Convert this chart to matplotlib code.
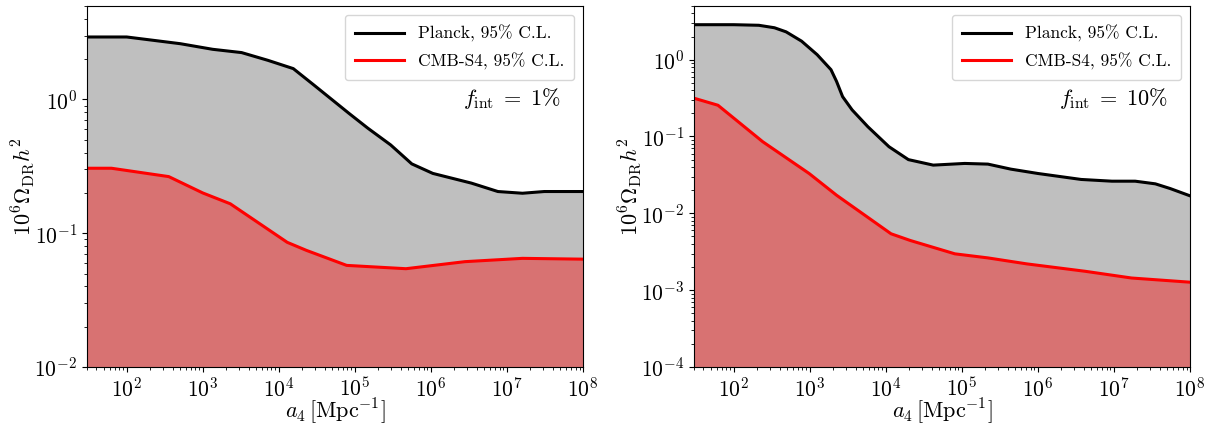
import matplotlib
matplotlib.use('Agg')
import matplotlib.pyplot as plt
import numpy as np

plt.rcParams['font.family'] = 'serif'
plt.rcParams['font.serif'] = ['cmr10']
plt.rcParams['mathtext.fontset'] = 'cm'
plt.rcParams['axes.formatter.use_mathtext'] = True
plt.rcParams['axes.unicode_minus'] = False

# f_int = 1%
a4_p1 = [30, 100, 507, 1350, 3240, 7200, 15500, 29000, 83000, 148000, 296000,
         560000, 1.06e6, 3.4e6, 7.6e6, 1.6e7, 3.1e7, 1e8]
planck_1 = [2.93, 2.93, 2.61, 2.37, 2.24, 1.96, 1.70, 1.28, 0.79, 0.61, 0.457,
            0.33, 0.28, 0.237, 0.205, 0.199, 0.205, 0.205]
a4_s1 = [30, 63, 357, 1000, 2300, 12900, 23000, 78000, 470000, 2.8e6, 1.6e7, 1e8]
cmbs4_1 = [0.306, 0.306, 0.265, 0.20, 0.166, 0.0855, 0.0745, 0.0575, 0.0543,
           0.0613, 0.0649, 0.0640]

# f_int = 10%
a4_p10 = [30, 100, 214, 343, 488, 780, 1250, 1900, 2250, 2700, 3600, 5800,
          11000, 19800, 42000, 109000, 220000, 440000, 1e6, 3.7e6, 9.4e6,
          1.9e7, 3.5e7, 5.5e7, 1e8]
planck_10 = [2.85, 2.85, 2.8, 2.6, 2.3, 1.74, 1.16, 0.74, 0.52, 0.33, 0.222,
             0.134, 0.0736, 0.050, 0.0424, 0.0446, 0.0437, 0.0376, 0.033,
             0.0276, 0.0262, 0.0262, 0.0242, 0.021, 0.0169]
a4_s10 = [30, 62, 240, 980, 2250, 11700, 21000, 81000, 220000, 7.1e5, 4.2e6,
          1.7e7, 1e8]
cmbs4_10 = [0.315, 0.255, 0.0856, 0.033, 0.0172, 0.00542, 0.00443, 0.00297,
            0.00263, 0.0022, 0.00176, 0.00144, 0.00127]

panels = [
    (a4_p1, planck_1, a4_s1, cmbs4_1, 1e-2, r'$f_{\rm int}\;=\;1\%$'),
    (a4_p10, planck_10, a4_s10, cmbs4_10, 1e-4, r'$f_{\rm int}\;=\;10\%$'),
]

fig = plt.figure(figsize=(12.08, 4.24), dpi=100)
lefts = [0.072, 0.5745]

for left, (xp, yp, xs, ys, ymin, txt) in zip(lefts, panels):
    ax = fig.add_axes([left, 0.1344, 0.4106, 0.8516])
    ax.fill_between(xp, ymin * 1e-3, yp, color='k', alpha=0.25, lw=0)
    ax.fill_between(xs, ymin * 1e-3, ys, color='red', alpha=0.4, lw=0)
    ax.plot(xp, yp, color='k', lw=2.2, label='Planck, 95% C.L.')
    ax.plot(xs, ys, color='red', lw=2.2, label='CMB-S4, 95% C.L.')
    ax.set_xscale('log')
    ax.set_yscale('log')
    ax.set_xlim(30, 1e8)
    ax.set_ylim(ymin, 5)
    ax.set_xticks([1e2, 1e3, 1e4, 1e5, 1e6, 1e7, 1e8])
    ax.tick_params(labelsize=15.5)
    ax.set_xlabel(r'$a_4\,[{\rm Mpc}^{-1}]$', fontsize=16, labelpad=-3)
    ax.set_ylabel(r'$10^6\Omega_{\rm DR}h^2$', fontsize=16, labelpad=-2)
    ax.legend(loc='upper right', fontsize=12.5, handlelength=2.8,
              borderpad=0.6, labelspacing=0.6)
    ax.text(0.955, 0.745, txt, transform=ax.transAxes, ha='right', va='center',
            fontsize=16)

plt.savefig('out.png', dpi=100)
